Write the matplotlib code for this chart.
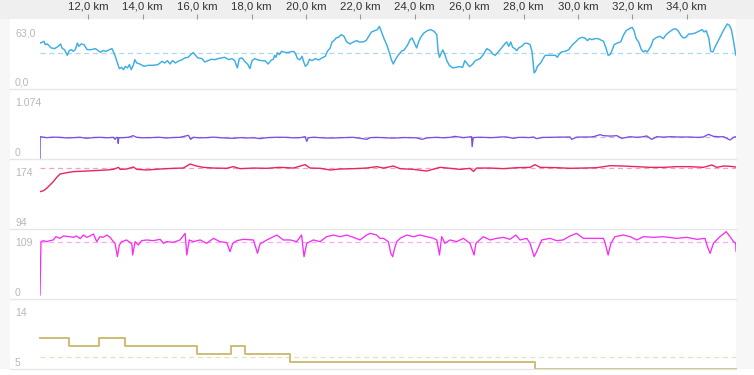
import matplotlib
matplotlib.use("Agg")
import matplotlib.pyplot as plt
from matplotlib.patches import Rectangle
from matplotlib.lines import Line2D

plt.rcParams['font.family'] = ['Liberation Sans', 'DejaVu Sans']

# ---------------- data ----------------
x_start, x_end = 10.224, 35.81
km_ticks = [12, 14, 16, 18, 20, 22, 24, 26, 28, 30, 32, 34]
km_tick_labels = [f"{t},0 km" for t in km_ticks]

# panel 1 (blue)
speed_km = [10.224, 10.25, 10.37, 10.42, 10.49, 10.64, 10.76, 10.91, 10.98, 11.03, 11.13, 11.23, 11.30, 11.38, 11.45,
            11.52, 11.60, 11.65, 11.74, 11.84, 11.96, 12.11, 12.26, 12.36, 12.45, 12.54, 12.66, 12.75, 12.87, 12.97,
            13.07, 13.14, 13.22, 13.29, 13.36, 13.44, 13.51, 13.58, 13.66, 13.71, 13.78, 13.89, 14.05, 14.20, 14.38,
            14.56, 14.71, 14.81, 14.91, 15.00, 15.10, 15.20, 15.30, 15.45, 15.54, 15.67, 15.79, 15.86, 15.94, 16.03,
            16.18, 16.28, 16.40, 16.52, 16.65, 16.77, 16.89, 17.01, 17.16, 17.28, 17.38, 17.48, 17.55, 17.65, 17.75,
            17.87, 17.94, 18.02, 18.12, 18.24, 18.36, 18.49, 18.61, 18.73, 18.80,
            18.85, 18.90, 18.95, 19.02, 19.10, 19.17, 19.29, 19.42, 19.54, 19.61, 19.69, 19.78, 19.86, 19.91, 19.98,
            20.05, 20.13, 20.22, 20.35, 20.47, 20.59, 20.71, 20.79, 20.89, 20.96, 21.03, 21.11, 21.20, 21.30, 21.40,
            21.50, 21.62, 21.74, 21.87, 21.96, 22.09, 22.21, 22.31, 22.41, 22.53, 22.63, 22.70, 22.77, 22.87, 22.97,
            23.07, 23.14, 23.21, 23.31, 23.41, 23.51, 23.61, 23.73, 23.83, 23.90, 23.97, 24.07, 24.15, 24.24, 24.34,
            24.46, 24.59, 24.71, 24.81, 24.86, 24.91, 24.95, 25.03, 25.10, 25.18, 25.27, 25.40, 25.52, 25.64, 25.76,
            25.84, 25.91, 26.01, 26.11, 26.23, 26.40, 26.52, 26.65, 26.77, 26.87, 26.96, 27.09, 27.21, 27.33,
            27.38, 27.46, 27.53, 27.60, 27.68, 27.75, 27.82, 27.95, 28.04, 28.14, 28.24, 28.31, 28.39, 28.44, 28.51,
            28.63, 28.73, 28.80, 28.93, 29.05, 29.17, 29.24, 29.32, 29.39, 29.54, 29.66, 29.78, 29.91, 30.03, 30.15,
            30.25, 30.35, 30.42, 30.52, 30.62, 30.74, 30.84, 30.94, 31.03, 31.11, 31.18, 31.25, 31.33, 31.45, 31.57,
            31.67, 31.77, 31.89, 31.99, 32.06, 32.14, 32.23, 32.33, 32.41, 32.48, 32.55, 32.68, 32.77, 32.90, 33.02,
            33.14, 33.24, 33.36, 33.48, 33.58, 33.68, 33.78, 33.88, 33.97, 34.07, 34.17, 34.32, 34.44, 34.56, 34.64,
            34.71, 34.81, 34.88, 34.96, 35.05, 35.18, 35.30, 35.40, 35.49, 35.57, 35.64, 35.72, 35.79, 35.81]
speed_val = [41.7, 41.7, 43.2, 40.2, 40.8, 37.2, 36.6, 39.0, 40.8, 37.2, 35.4, 30.6, 34.8, 35.7, 34.2,
             35.7, 41.7, 38.7, 40.8, 40.2, 35.7, 35.7, 36.6, 34.8, 33.3, 34.8, 34.2, 35.4, 36.6, 31.2,
             23.7, 18.6, 19.8, 17.7, 20.7, 19.2, 22.2, 17.7, 22.2, 26.7, 23.7, 22.8, 20.7, 21.6, 21.6,
             22.2, 25.2, 23.7, 25.8, 22.8, 25.8, 23.7, 25.2, 26.7, 28.2, 28.8, 31.8, 33.0, 30.6, 28.2,
             27.6, 24.6, 25.8, 27.0, 26.7, 27.6, 28.2, 28.8, 26.7, 27.6, 25.8, 19.2, 27.6, 28.2, 25.2,
             22.2, 18.6, 25.8, 27.6, 26.4, 25.8, 25.8, 22.8, 26.4, 27.0,
             30.6, 28.8, 33.0, 31.2, 34.2, 33.6, 33.0, 33.6, 34.2, 32.4, 27.6, 26.7, 29.7, 25.2, 20.7,
             22.2, 27.0, 25.8, 27.6, 26.4, 28.2, 29.7, 34.2, 37.2, 42.6, 43.8, 46.2, 46.8, 49.2, 47.7,
             42.6, 40.8, 42.6, 43.8, 42.6, 42.6, 43.8, 47.7, 51.6, 52.8, 53.7, 56.7, 52.2, 45.6, 40.2,
             32.7, 26.7, 22.8, 27.6, 31.2, 34.2, 35.4, 39.6, 44.7, 46.2, 42.6, 37.2, 43.2, 47.7, 50.7,
             52.8, 53.7, 52.2, 49.2, 34.2, 28.8, 31.2, 35.4, 31.8, 25.8, 21.6, 19.2, 19.8, 20.4, 19.8,
             25.8, 23.7, 20.4, 22.2, 25.8, 27.6, 31.2, 36.6, 34.8, 31.8, 30.6, 34.2, 37.8, 41.4,
             42.6, 38.7, 42.6, 37.8, 36.6, 34.8, 37.2, 39.0, 41.4, 41.4, 40.2, 34.2, 14.7, 16.2, 20.7,
             23.7, 28.2, 30.6, 30.6, 30.6, 30.6, 28.8, 31.8, 33.6, 34.2, 35.7, 39.6, 42.6, 45.6, 46.8,
             46.2, 43.8, 45.6, 44.7, 45.6, 45.6, 44.4, 43.2, 37.2, 30.6, 31.2, 34.8, 40.2, 41.7, 42.6,
             48.6, 52.8, 54.6, 55.8, 52.8, 45.6, 42.6, 35.7, 33.6, 34.8, 33.6, 38.7, 44.7, 46.8, 47.7,
             45.6, 49.2, 51.6, 53.7, 54.6, 52.8, 48.6, 46.2, 46.8, 49.8, 49.8, 50.7, 52.2, 53.7, 51.6,
             52.8, 46.2, 34.2, 33.6, 38.7, 44.7, 50.7, 55.2, 58.8, 57.6, 53.7, 43.2, 32.7, 30.6]
speed_avg = 32.4
speed_range = (0.0, 63.0)
speed_labels = ("63,0", "0,0")

# panel 2 (purple)
power_km = [10.224, 10.23, 10.47, 10.72, 10.96, 11.2, 11.45, 11.7, 11.94, 12.2, 12.43, 12.7, 12.92, 12.98, 13.04,
            13.08, 13.10, 13.12, 13.29, 13.5, 13.65, 13.78, 14.0, 14.27, 14.6, 14.88, 15.1, 15.37, 15.68, 15.76,
            15.86, 16.1, 16.35, 16.6, 16.84, 17.1, 17.33, 17.6, 17.82, 18.1, 18.31, 18.56, 18.9, 19.29, 19.5,
            19.78, 19.97, 20.03, 20.09, 20.3, 20.52, 20.8, 21.01, 21.4, 21.74, 21.99, 22.24, 22.36, 22.6, 22.85,
            23.1, 23.34, 23.6, 23.83, 24.05, 24.26, 24.44, 24.6, 24.81, 25.05, 25.30, 25.48, 25.79, 26.09, 26.11,
            26.15, 26.3, 26.52, 26.8, 27.01, 27.2, 27.38, 27.63, 27.8, 27.99, 28.2, 28.36, 28.48, 28.7, 28.97,
            29.3, 29.71, 29.77, 29.95, 30.20, 30.45, 30.6, 30.81, 30.94, 31.2, 31.43, 31.61, 31.92, 32.16, 32.35,
            32.53, 32.71, 32.90, 33.15, 33.39, 33.7, 34.12, 34.4, 34.61, 34.80, 34.98, 35.2, 35.35, 35.59, 35.72,
            35.81]
power_val = [0, 347, 332, 340, 337, 328, 332, 338, 322, 334, 337, 330, 337, 306, 337,
             332, 245, 332, 332, 340, 363, 337, 330, 332, 338, 327, 334, 337, 368, 306,
             337, 330, 332, 340, 332, 326, 322, 333, 327, 330, 317, 332, 338, 337, 330,
             332, 347, 276, 332, 338, 332, 326, 327, 333, 337, 322, 306, 332, 336, 332,
             326, 327, 334, 332, 330, 306, 327, 333, 337, 330, 337, 352, 332, 347, 194,
             332, 338, 337, 332, 337, 344, 342, 322, 336, 337, 333, 342, 317, 336, 337,
             340, 342, 306, 340, 342, 342, 350, 378, 363, 356, 363, 322, 347, 337, 344,
             358, 306, 347, 340, 347, 342, 342, 336, 342, 383, 352, 345, 347, 296, 337,
             347]
power_avg = 335
power_range = (0.0, 1074.0)
power_labels = ("1.074", "0")

# panel 3 (red)
hr_km = [10.224, 10.35, 10.47, 10.59, 10.71, 10.84, 10.96, 11.21, 11.45, 11.69, 11.94, 12.19, 12.43, 12.68, 12.92,
         13.11, 13.17, 13.41, 13.66, 13.78, 14.15, 14.64, 15.13, 15.49, 15.74, 15.98, 16.23, 16.60, 17.09, 17.33,
         17.58, 18.07, 18.56, 19.05, 19.54, 19.97, 20.15, 20.52, 20.89, 21.25, 21.74, 22.23, 22.60, 22.85, 23.21,
         23.46, 23.95, 24.44, 24.93, 25.30, 25.67, 26.03, 26.16, 26.28, 26.77, 27.26, 27.75, 28.24, 28.42, 28.61,
         29.22, 29.71, 30.20, 30.69, 31.18, 31.67, 32.16, 32.65, 33.14, 33.63, 34.12, 34.61, 34.92, 35.10, 35.35,
         35.59, 35.80]
hr_val = [137.0, 138.1, 140.8, 144.6, 148.4, 153.4, 157.2, 158.7, 159.9, 160.2, 160.6, 161.0, 161.4, 161.8, 162.5,
          164.8, 162.5, 162.9, 165.2, 162.5, 161.8, 162.9, 163.7, 164.0, 168.6, 166.3, 164.8, 164.0, 163.7, 165.6,
          163.3, 164.0, 163.7, 164.8, 164.0, 167.9, 164.0, 163.7, 161.8, 162.9, 163.3, 164.0, 165.6, 164.0, 166.3,
          163.3, 162.5, 160.6, 164.8, 163.7, 162.5, 163.7, 160.2, 164.0, 164.0, 163.3, 164.4, 164.8, 167.9, 164.8,
          164.4, 163.7, 164.0, 164.4, 166.7, 166.3, 165.6, 164.8, 164.8, 165.6, 165.6, 164.8, 167.5, 164.8, 166.3,
          166.0, 165.2]
hr_avg = 163.7
hr_range = (94.0, 174.0)
hr_labels = ("174", "94")

# panel 4 (magenta)
cad_km = [10.224, 10.26, 10.35, 10.47, 10.59, 10.71, 10.81, 10.96, 11.08, 11.33, 11.45, 11.57, 11.70, 11.82, 11.94,
          12.06, 12.19, 12.31, 12.43, 12.55, 12.68, 12.80, 12.92, 12.98, 13.07, 13.14, 13.23, 13.41, 13.60, 13.63,
          13.72, 13.84, 13.96, 14.15, 14.39, 14.64, 14.76, 14.88, 15.13, 15.37, 15.56, 15.62, 15.71, 15.86, 16.11,
          16.35, 16.60, 16.84, 17.09, 17.21, 17.31, 17.46, 17.70, 18.07, 18.22, 18.31, 18.56, 18.80, 18.93, 19.17,
          19.42, 19.66, 19.84, 19.93, 20.03, 20.27, 20.52, 20.76, 21.01, 21.25, 21.50, 21.74, 21.99, 22.23, 22.36,
          22.60, 22.72, 22.85, 23.03, 23.12, 23.19, 23.26, 23.34, 23.46, 23.58, 23.71, 23.95, 24.20, 24.44, 24.69,
          24.81, 24.91, 24.99, 25.11, 25.30, 25.54, 25.79, 26.03, 26.18, 26.25, 26.52, 26.77, 27.01, 27.26, 27.50,
          27.72, 27.87, 28.12, 28.24, 28.39, 28.48, 28.67, 28.97, 29.22, 29.45, 29.71, 29.95, 30.20, 30.69, 30.94,
          31.00, 31.11, 31.21, 31.36, 31.67, 31.92, 32.16, 32.41, 32.77, 33.14, 33.63, 34.00, 34.37, 34.67, 34.76,
          34.86, 34.98, 35.22, 35.45, 35.59, 35.72, 35.80, 35.81]
cad_val = [6.7, 89.8, 91.3, 89.8, 91.3, 92.4, 97.5, 94.9, 98.6, 97.5, 96.5, 98.6, 94.4, 100.1, 96.5,
           98.6, 101.7, 89.8, 97.5, 96.5, 100.1, 96.5, 89.8, 87.2, 66.4, 84.6, 89.8, 92.4, 86.1, 69.0,
           89.8, 84.6, 91.3, 92.4, 91.3, 93.4, 87.2, 89.8, 88.7, 92.4, 102.7, 69.0, 92.4, 89.8, 92.4,
           87.2, 94.9, 89.8, 88.2, 74.2, 87.2, 91.3, 93.4, 92.4, 71.6, 86.1, 92.4, 97.5, 100.1, 92.4,
           92.4, 89.8, 100.1, 66.4, 87.2, 92.4, 89.8, 97.5, 100.1, 97.5, 100.1, 96.5, 92.4, 100.1, 102.7,
           100.1, 94.9, 94.9, 89.8, 71.6, 66.4, 79.4, 89.8, 94.9, 97.5, 100.1, 97.5, 100.1, 97.5, 94.9,
           92.4, 69.0, 97.5, 87.2, 92.4, 89.8, 94.9, 87.2, 69.0, 87.2, 97.5, 92.4, 94.9, 96.5, 93.4,
           100.1, 92.4, 94.9, 87.2, 66.4, 74.2, 92.4, 94.9, 91.3, 92.4, 98.6, 102.7, 94.9, 94.9, 94.9,
           87.2, 69.0, 87.2, 97.5, 100.1, 97.5, 92.4, 97.5, 96.5, 97.5, 94.9, 96.5, 93.4, 94.9, 82.0,
           71.6, 87.2, 97.5, 105.3, 97.5, 89.8, 87.2, 75.0]
cad_avg = 89.8
cad_range = (0.0, 109.0)
cad_labels = ("109", "0")

# panel 5 (khaki steps)
gear_km = [10.224, 11.30, 12.38, 13.34, 15.985, 17.235, 17.77, 19.415, 28.41, 35.81]
gear_val = [9, 8, 9, 8, 7, 8, 7, 6, 5, 5]
gear_avg = 6.54
gear_range = (5.0, 14.0)
gear_labels = ("14", "5")

# ---------------- layout ----------------
W, H = 754, 375
fig = plt.figure(figsize=(W / 100, H / 100), dpi=100)
fig.patch.set_facecolor('white')

def fx(px):
    return px / W

def fy(py):
    return 1 - py / H

top_band = 19.3
panel_h = 70.0
left_px, right_px = 40, 736

# backgrounds
fig.add_artist(Rectangle((0, fy(top_band)), 1, top_band / H, transform=fig.transFigure,
                         facecolor='#efefef', edgecolor='none', zorder=0))
fig.add_artist(Rectangle((0, fy(top_band + 5 * panel_h)), fx(10), 5 * panel_h / H, transform=fig.transFigure,
                         facecolor='#f7f7f7', edgecolor='none', zorder=0))
fig.add_artist(Rectangle((fx(right_px), fy(top_band + 5 * panel_h)), fx(W - right_px), 5 * panel_h / H,
                         transform=fig.transFigure, facecolor='#f7f7f7', edgecolor='none', zorder=0))

panels = [
    (speed_km, speed_val, speed_avg, speed_range, speed_labels, '#3eaee4', '#a9d9f1', 1.05, 'line'),
    (power_km, power_val, power_avg, power_range, power_labels, '#7a4fdc', '#c7b6f0', 0.95, 'line'),
    (hr_km, hr_val, hr_avg, hr_range, hr_labels, '#e8255c', '#f4a3bb', 1.0, 'line'),
    (cad_km, cad_val, cad_avg, cad_range, cad_labels, '#f52ff2', '#f8aaf5', 0.95, 'line'),
    (gear_km, gear_val, gear_avg, gear_range, gear_labels, '#c8b96c', '#e6e0c2', 1.3, 'step'),
]

axes = []
for i, (xs, ys, avg, yr, labs, col, dcol, lw, kind) in enumerate(panels):
    top_px = top_band + i * panel_h
    bot_px = top_px + panel_h
    ax = fig.add_axes([fx(left_px), fy(bot_px), fx(right_px - left_px), panel_h / H])
    ax.set_facecolor('none')
    ax.set_xlim(x_start, x_end)
    ax.set_ylim(*yr)
    for s in ax.spines.values():
        s.set_visible(False)
    ax.tick_params(left=False, labelleft=False, bottom=False, labelbottom=False)
    ax.axhline(avg, color=dcol, lw=0.9, dashes=(4, 3), zorder=1)
    if kind == 'step':
        ax.plot(xs, ys, color=col, lw=lw, drawstyle='steps-post', clip_on=False, zorder=3)
    else:
        ax.plot(xs, ys, color=col, lw=lw, zorder=3, solid_joinstyle='round')
    # labels (max near top, min near bottom)
    fig.text(fx(15), fy(top_px + 13.8), labs[0], ha='left', va='center', fontsize=7.6, color='#b8b8b8')
    fig.text(fx(15), fy(bot_px - 6.6), labs[1], ha='left', va='center', fontsize=7.6, color='#b8b8b8')
    # separator line at panel bottom
    fig.add_artist(Line2D([fx(10), fx(right_px)], [fy(bot_px), fy(bot_px)], transform=fig.transFigure,
                          color='#e6e6e6', lw=1.0, zorder=2))
    axes.append(ax)

# top distance axis
ax0 = axes[0]
ax0.xaxis.set_ticks_position('top')
ax0.set_xticks(km_ticks)
ax0.set_xticklabels(km_tick_labels)
ax0.tick_params(top=True, labeltop=True, direction='out', length=3.6, width=0.8, color='#9a9a9a',
                pad=1.8, labelsize=8.2, labelcolor='#333333')

fig.savefig('out.png', dpi=100, facecolor='white')
